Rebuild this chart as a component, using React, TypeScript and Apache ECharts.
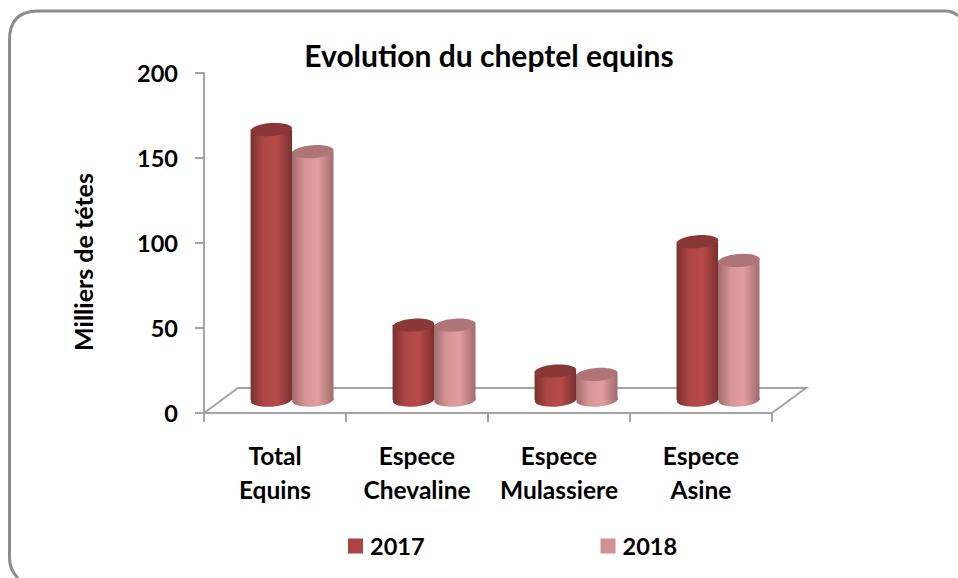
import React, { useEffect, useRef } from "react";
import * as echarts from "echarts";

const categories = ["Total\nEquins", "Espece\nChevaline", "Espece\nMulassiere", "Espece\nAsine"];
const values2017 = [165, 50, 23, 99];
const values2018 = [152, 50, 21, 88];
const yTicks = { min: 0, max: 200, interval: 50 };

const FONT = "Lato, 'Open Sans', sans-serif";
const AXIS = "#a3a3a3";

echarts.graphic.registerShape(
  "frameOutline",
  echarts.graphic.extendPath(
    "M 18 578 Q 9.5 570 9.5 558 L 9.5 40 Q 9.5 11 38 11 L 945 11 Q 953 11 958 16",
    {}
  )
);

function cylinder(dir: number, dark: string, mid: string, light: string, top: string) {
  return (params: any, api: any) => {
    const cat = api.value(0);
    const val = api.value(1);
    const band = api.size([1, 0])[0];
    const w = band * 0.292;
    const [cx0, yTop0] = api.coord([cat, val]);
    const [, yBase0] = api.coord([cat, 0]);
    const liftTop = 9.5;
    const liftBase = 7.5;
    const ry = 6.5;
    const rx = w / 2;
    const tilt = 0.07;
    const depth = band * 0.12;
    const cx = cx0 + depth + (dir * w) / 2;
    const yTop = yTop0 - liftTop + ry;
    const yBot = yBase0 - liftBase - ry + 1;
    const grad = new echarts.graphic.LinearGradient(0, 0, 1, 0, [
      { offset: 0, color: dark },
      { offset: 0.3, color: mid },
      { offset: 0.62, color: light },
      { offset: 1, color: dark },
    ]);
    return {
      type: "group",
      children: [
        {
          type: "ellipse",
          shape: { cx, cy: yBot, rx, ry },
          originX: cx,
          originY: yBot,
          rotation: tilt,
          style: { fill: grad },
        },
        {
          type: "rect",
          shape: { x: cx - rx, y: yTop, width: w, height: Math.max(0, yBot - yTop) },
          style: { fill: grad },
        },
        {
          type: "ellipse",
          shape: { cx, cy: yTop, rx, ry },
          originX: cx,
          originY: yTop,
          rotation: tilt,
          style: { fill: top },
        },
      ],
    };
  };
}

export default function App() {
  const ref = useRef<HTMLDivElement>(null);
  useEffect(() => {
    document.body.style.margin = "0";
    const chart = echarts.init(ref.current!, null, { renderer: "svg" });
    const labelStyle = { color: "#000", fontFamily: FONT, fontWeight: "bold" as const };
    chart.setOption({
      animation: false,
      backgroundColor: "#fff",
      title: {
        text: "Evolution du cheptel equins",
        left: 484,
        top: 35,
        textAlign: "center",
        textStyle: { color: "#000", fontFamily: FONT, fontWeight: "bold", fontSize: 30 },
      },
      legend: {
        left: 343,
        top: 529,
        itemWidth: 15,
        itemHeight: 15,
        itemGap: 176,
        icon: "rect",
        textStyle: { ...labelStyle, fontSize: 23.5, padding: [0, 0, 0, 2] },
        data: ["2017", "2018"],
      },
      grid: { left: 204, right: 186, top: 73, bottom: 165 },
      xAxis: {
        type: "category",
        data: categories,
        axisLine: { lineStyle: { color: AXIS, width: 2 } },
        axisTick: { show: true, interval: 0, length: 9, alignWithLabel: false, lineStyle: { color: AXIS, width: 2 } },
        axisLabel: { ...labelStyle, interval: 0, margin: 25, lineHeight: 34, fontSize: 24.5 },
      },
      yAxis: {
        type: "value",
        ...yTicks,
        name: "Milliers de tétes",
        nameLocation: "middle",
        nameGap: 109,
        nameRotate: 90,
        nameTextStyle: { ...labelStyle, fontSize: 25, padding: [0, 38, 0, 0] },
        splitLine: { show: false },
        axisLine: { show: true, lineStyle: { color: AXIS, width: 2 } },
        axisTick: { show: true, length: 9, lineStyle: { color: AXIS, width: 2 } },
        axisLabel: { ...labelStyle, margin: 26, fontSize: 23.5 },
      },
      series: [
        {
          name: "2018",
          type: "custom",
          coordinateSystem: "cartesian2d",
          itemStyle: { color: "#d29294" },
          encode: { x: 0, y: 1 },
          renderItem: cylinder(1, "#a26b6c", "#d59597", "#e09ea1", "#ad7577"),
          data: values2018.map((v, i) => [i, v]),
          z: 3,
        },
        {
          name: "2017",
          type: "custom",
          coordinateSystem: "cartesian2d",
          itemStyle: { color: "#ab4442" },
          encode: { x: 0, y: 1 },
          renderItem: cylinder(-1, "#7a302f", "#ad4644", "#b64b49", "#8a3837"),
          data: values2017.map((v, i) => [i, v]),
          z: 4,
        },
      ],
      graphic: [
        {
          type: "frameOutline",
          silent: true,
          z: -1,
          style: { fill: "none", stroke: "#8c8c8c", lineWidth: 3 },
        },
        {
          type: "polyline",
          silent: true,
          z: 1,
          shape: { points: [[204, 413], [238, 388], [806, 388], [772, 413]] },
          style: { fill: "none", stroke: AXIS, lineWidth: 2 },
        },
      ],
    });
    return () => chart.dispose();
  }, []);
  return <div ref={ref} style={{ width: 958, height: 578 }} />;
}
